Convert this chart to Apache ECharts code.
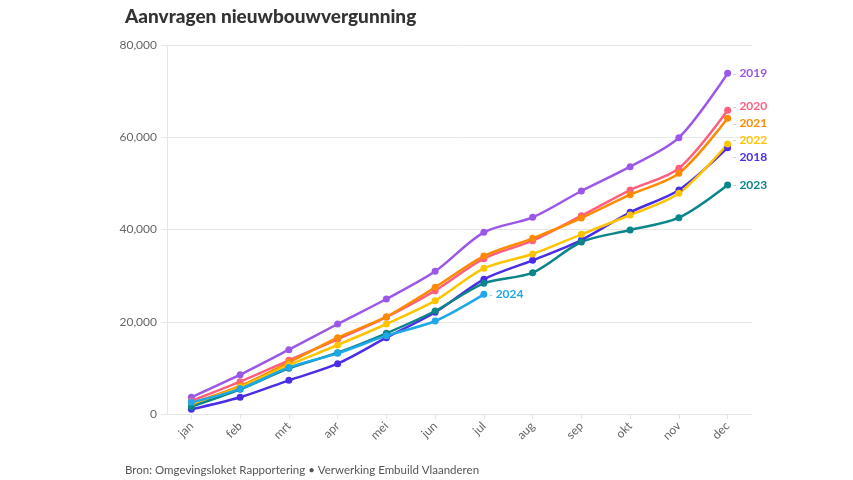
<!DOCTYPE html>
<html><head><meta charset="utf-8">
<script src="https://cdn.jsdelivr.net/npm/echarts@6/dist/echarts.min.js"></script>
<style>html,body{margin:0;padding:0;background:#fff}#c{width:853px;height:480px}</style>
</head><body><div id="c"></div>
<script>
const months = ['jan','feb','mrt','apr','mei','jun','jul','aug','sep','okt','nov','dec'];
const y2018 = [1010,3620,7300,10910,16540,22050,29200,33310,37720,43730,48560,57740];
const y2019 = [3620,8520,13940,19510,24930,30940,39390,42640,48350,53620,59900,73860];
const y2020 = [2820,7000,11640,16190,21000,26740,33670,37580,42990,48560,53270,65840];
const y2021 = [2300,6070,11200,16540,21100,27470,34250,38090,42490,47550,52180,64110];
const y2022 = [2000,5800,10620,14960,19510,24570,31580,34690,38960,43140,47850,58540];
const y2023 = [1590,5350,9900,13300,17500,22330,28330,30640,37290,39890,42560,49650];
const y2024 = [2530,5450,10100,13150,16980,20160,25950];
const yTicks = [0,20000,40000,60000,80000];

const seriesDefs = [
  {name:'2018', data:y2018, color:'#4a2ee6', dy:9},
  {name:'2019', data:y2019, color:'#9b58e8', dy:0},
  {name:'2020', data:y2020, color:'#ff5f7f', dy:-4},
  {name:'2021', data:y2021, color:'#ff8a00', dy:5},
  {name:'2022', data:y2022, color:'#ffc400', dy:-4},
  {name:'2023', data:y2023, color:'#0a8589', dy:0},
  {name:'2024', data:y2024, color:'#1fa8e9', dy:0}
];

const FONT = 'Lato, "Open Sans", sans-serif';
const chart = echarts.init(document.getElementById('c'));
chart.setOption({
  animation:false,
  textStyle:{fontFamily:FONT},
  title:[{
    text:'Aanvragen nieuwbouwvergunning', left:120, top:2,
    textStyle:{fontFamily:FONT, fontWeight:900, fontSize:19, color:'#333'}
  },{
    text:'Bron: Omgevingsloket Rapportering • Verwerking Embuild Vlaanderen', left:120, top:459,
    textStyle:{fontFamily:FONT, fontWeight:'normal', fontSize:11.5, color:'#555'}
  }],
  grid:{left:167, right:101, top:45, bottom:66},
  xAxis:{
    type:'category', data:months, boundaryGap:true,
    axisLine:{lineStyle:{color:'#e6e6e6'}},
    axisTick:{show:true, alignWithLabel:true, length:5, lineStyle:{color:'#e6e6e6'}},
    axisLabel:{rotate:45, color:'#666', fontSize:12, margin:10}
  },
  yAxis:{
    type:'value', min:yTicks[0], max:yTicks[yTicks.length-1], interval:20000,
    axisLine:{show:true, lineStyle:{color:'#e6e6e6'}},
    axisTick:{show:true, length:6, lineStyle:{color:'#e6e6e6'}},
    splitLine:{lineStyle:{color:'#e8e8e8'}},
    axisLabel:{color:'#666', fontSize:12, margin:10,
      formatter:v=>v.toLocaleString('en-US')}
  },
  series: seriesDefs.map(s=>({
    name:s.name, type:'line', data:s.data,
    symbol:'circle', symbolSize:7,
    lineStyle:{width:2.5, color:s.color},
    itemStyle:{color:s.color},
    smooth:0.3,
    endLabel:{show:true, offset:[-3,s.dy],
      formatter:'{d|-} {y|'+s.name+'}',
      rich:{d:{color:'#bbb', fontSize:10}, y:{color:s.color, fontWeight:'bold', fontSize:12}}
    }
  }))
});
</script></body></html>
